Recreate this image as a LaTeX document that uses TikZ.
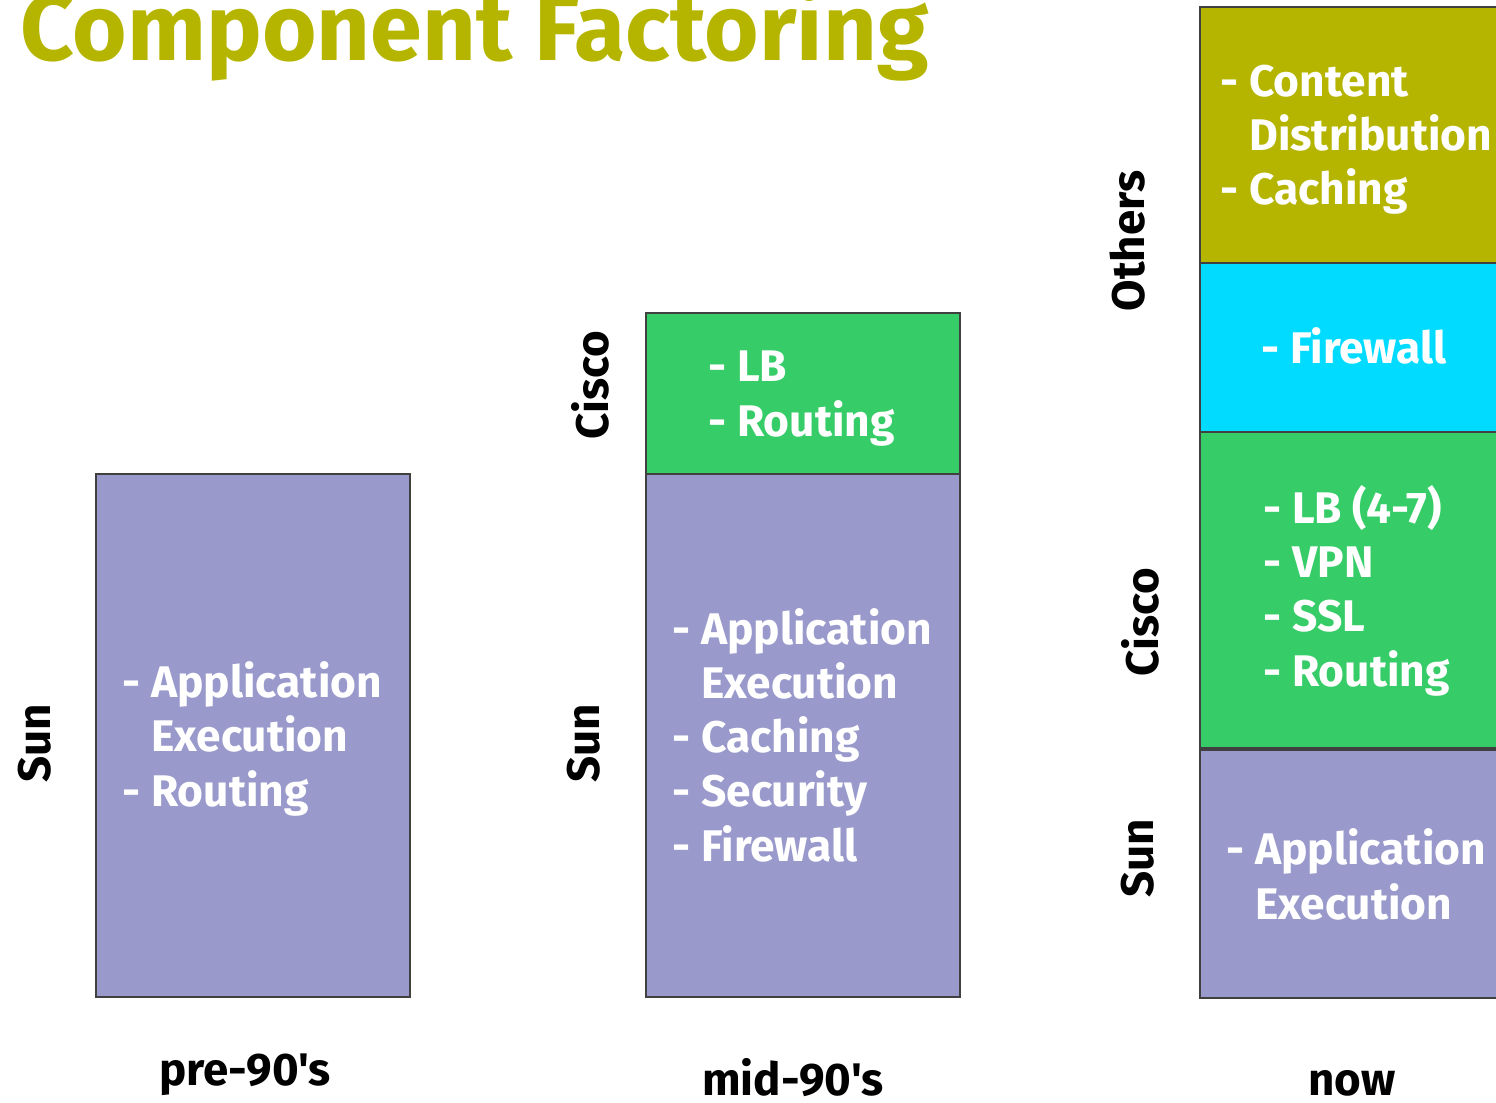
\documentclass[tikz,border=0pt]{standalone}
\usepackage{fontspec}
\setmainfont{Fira Sans}
\newfontfamily\erafont{Fira Sans}
\usetikzlibrary{positioning}
\definecolor{sunblue}{RGB}{153,153,204}
\definecolor{ciscogreen}{RGB}{54,204,104}
\definecolor{otherolive}{RGB}{181,181,0}
\definecolor{fwcyan}{RGB}{0,219,255}

\begin{document}
\begin{tikzpicture}[
	box/.style={draw=black!75,line width=0.5pt},
	boxtext/.style={text=white,font=\fontsize{12.6}{15.4}\selectfont\bfseries,align=left,anchor=base west,inner sep=0pt},
	vendor/.style={font=\fontsize{13}{15.4}\selectfont\bfseries,rotate=90,inner sep=0pt},
	era/.style={font=\erafont\fontsize{13}{15.4}\selectfont\bfseries,anchor=base,inner sep=0pt}]
	\useasboundingbox (0,0) rectangle (14.96,11.02);
	\node[anchor=base west,inner sep=0pt,text=otherolive,font=\fontsize{26.6}{30}\selectfont\bfseries] (title) at (0.20,10.41) {Component Factoring};
	\filldraw[box,fill=sunblue] (0.96,1.05) rectangle (4.10,6.28);
	\filldraw[box,fill=sunblue] (6.46,1.05) rectangle (9.60,6.28);
	\filldraw[box,fill=ciscogreen] (6.46,6.28) rectangle (9.60,7.89);
	\filldraw[box,fill=otherolive] (12.00,8.39) rectangle (15.20,10.95);
	\filldraw[box,fill=fwcyan] (12.00,6.70) rectangle (15.20,8.39);
	\filldraw[box,fill=ciscogreen] (12.00,3.54) rectangle (15.20,6.70);
	\filldraw[box,fill=sunblue] (12.00,1.04) rectangle (15.20,3.52);
	\node[boxtext] (preitems) at (1.22,2.96) {- Application\\\hphantom{- }Execution\\- Routing};
	\node[boxtext] (midcisco) at (7.08,6.66) {- LB\\- Routing};
	\node[boxtext] (midsun) at (6.72,2.41) {- Application\\\hphantom{- }Execution\\- Caching\\- Security\\- Firewall};
	\node[boxtext] (nowothers) at (12.20,8.97) {- Content\\\hphantom{- }Distribution\\- Caching};
	\node[boxtext] (nowfw) at (12.61,7.39) {- Firewall};
	\node[boxtext] (nowcisco) at (12.63,4.16) {- LB (4-7)\\- VPN\\- SSL\\- Routing};
	\node[boxtext] (nowsun) at (12.26,1.83) {- Application\\\hphantom{- }Execution};
	\node[vendor] (presun) at (0.35,3.59) {Sun};
	\node[vendor] (midsunlbl) at (5.84,3.59) {Sun};
	\node[vendor] (midciscolbl) at (5.90,7.17) {Cisco};
	\node[vendor] (othlbl) at (11.28,8.61) {Others};
	\node[vendor] (nowciscolbl) at (11.40,4.80) {Cisco};
	\node[vendor] (nowsunlbl) at (11.38,2.44) {Sun};
	\node[era] (pre) at (2.45,0.17) {pre-90's};
	\node[era] (mid) at (7.93,0.07) {mid-90's};
	\node[era] (now) at (13.52,0.07) {now};
\end{tikzpicture}
\end{document}
